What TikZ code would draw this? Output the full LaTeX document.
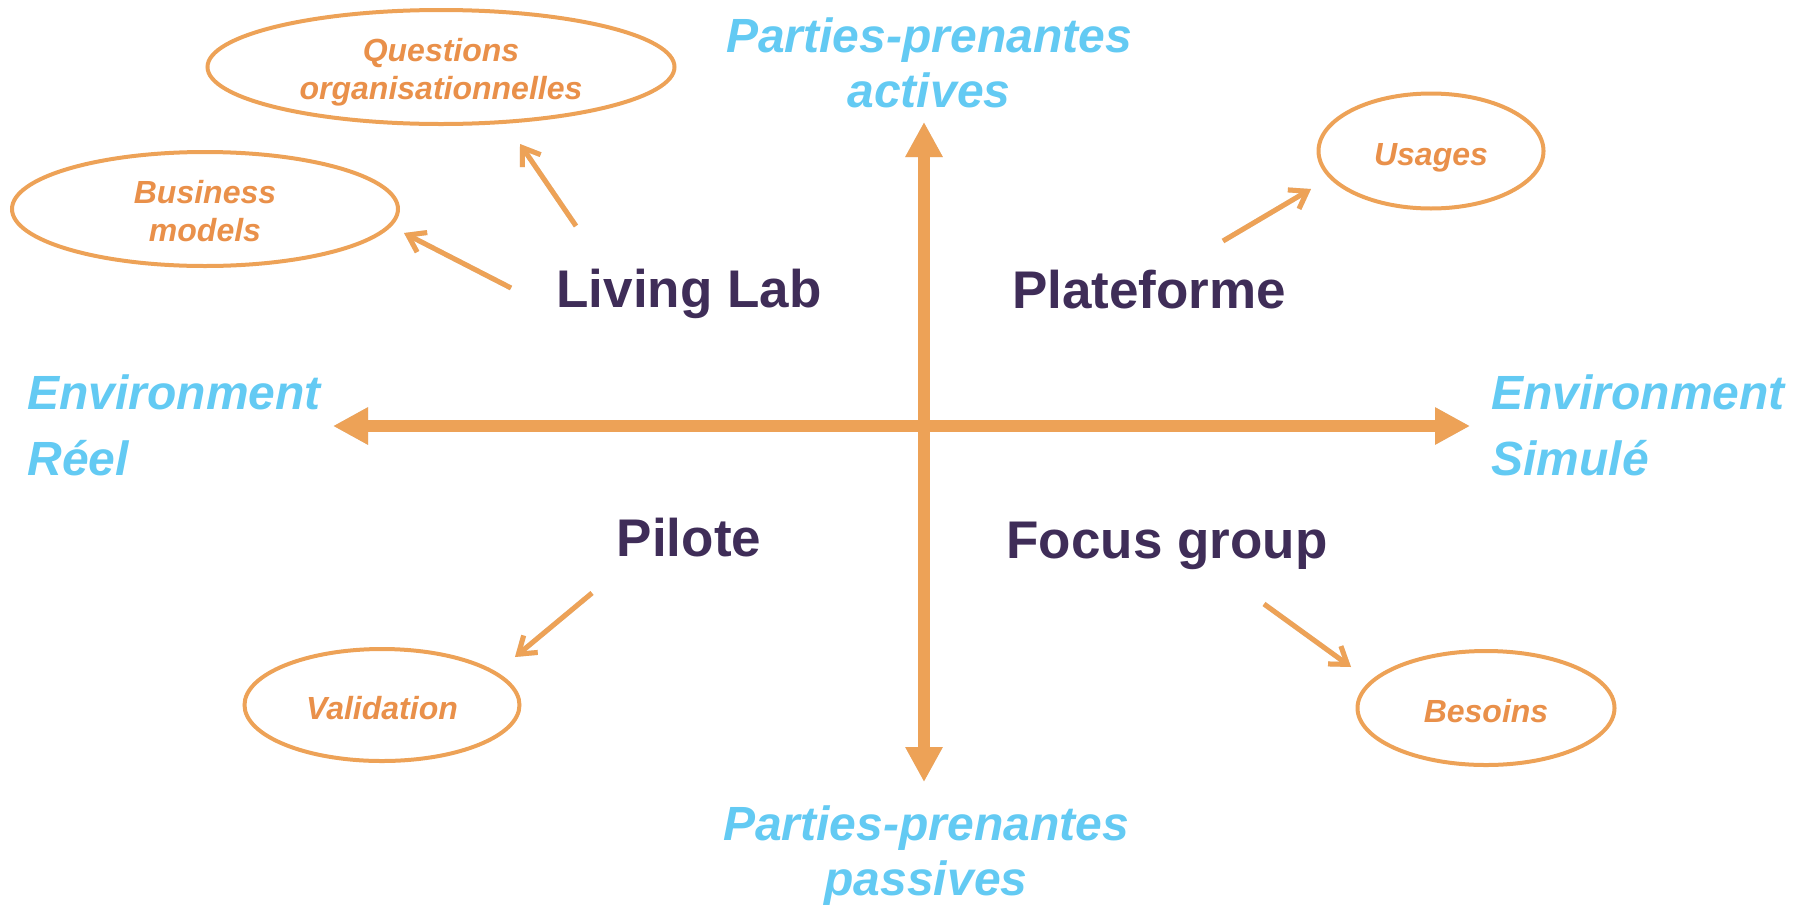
\documentclass[tikz,border=0pt]{standalone}
\usepackage{fontspec}
\setmainfont{Liberation Sans}
\usetikzlibrary{arrows.meta,shapes.geometric}
\definecolor{axisor}{HTML}{EDA257}
\definecolor{ovaltext}{HTML}{E9904A}
\definecolor{axblue}{HTML}{63CAF3}
\definecolor{quadpurple}{HTML}{3F2D58}
\begin{document}
\begin{tikzpicture}[x=0.5pt,y=-0.5pt,
  axisline/.style={draw=axisor,line width=6pt,
    {Triangle[length=17.5pt,width=17.5pt]}-{Triangle[length=17.5pt,width=17.5pt]}},
  axisshadow/.style={draw=black,opacity=0.13,line width=6pt,
    {Triangle[length=17.5pt,width=17.5pt]}-{Triangle[length=17.5pt,width=17.5pt]}},
  smallarrow/.style={draw=axisor,line width=2.5pt,-{Straight Barb[length=8pt,width=11pt]}},
  smallshadow/.style={draw=black,opacity=0.13,line width=2.5pt,-{Straight Barb[length=8pt,width=11pt]}},
  oval/.style={ellipse,draw=axisor,line width=2pt,inner sep=0pt,align=center,
    text height=14pt,text depth=0pt,
    text=ovaltext,font=\fontsize{16}{19}\selectfont\bfseries\itshape},
  ovaltwo/.style={oval,text height=32.6pt,text depth=0pt},
  quad/.style={anchor=base,text=quadpurple,font=\fontsize{26.5}{32}\selectfont\bfseries,inner sep=0pt},
  axlabelv/.style={anchor=base,align=center,text=axblue,inner sep=0pt,
    font=\fontsize{24}{27.5}\selectfont\bfseries\itshape},
  axlabelh/.style={anchor=base west,align=left,text=axblue,inner sep=0pt,
    font=\fontsize{24}{33}\selectfont\bfseries\itshape}]
\useasboundingbox (0,0) rectangle (1808,905);

% axis endpoints
\coordinate (axL) at (333,426);
\coordinate (axR) at (1470,426);
\coordinate (axT) at (924,122);
\coordinate (axB) at (924,782);

% shadows of axes
\begin{scope}[shift={(2,3)}]
  \draw[axisshadow] (axL) -- (axR);
  \draw[axisshadow] (axB) -- (axT);
\end{scope}
\draw[axisline] (axL) -- (axR);
\draw[axisline] (axB) -- (axT);

% axis labels (anchor = baseline of last line)
\node[axlabelv] (top) at (929,107) {Parties-prenantes\\actives};
\node[axlabelv] (bottom) at (926,895) {Parties-prenantes\\passives};
\node[axlabelh] (left) at (27,475) {Environment\\Réel};
\node[axlabelh] (right) at (1491,475) {Environment\\Simulé};

% quadrant labels
\node[quad] (living) at (689,307) {Living Lab};
\node[quad] (plat) at (1149,308) {Plateforme};
\node[quad] (pilote) at (689,556) {Pilote};
\node[quad] (focus) at (1167,558) {Focus group};

% ovals
\node[ovaltwo,minimum width=233.5pt,minimum height=57pt] (quest) at (441,67) {Questions\\organisationnelles};
\node[ovaltwo,minimum width=193pt,minimum height=57pt] (bus) at (205,209) {Business\\models};
\node[oval,minimum width=112.5pt,minimum height=57.5pt] (usa) at (1431,151) {Usages};
\node[oval,minimum width=137.5pt,minimum height=56pt] (vali) at (382,705) {Validation};
\node[oval,minimum width=128.5pt,minimum height=57pt] (beso) at (1486,708) {Besoins};

% small arrow ends
\coordinate (s1) at (511,288); \coordinate (t1) at (404,233);
\coordinate (s2) at (576,226); \coordinate (t2) at (520,144);
\coordinate (s3) at (1223,241); \coordinate (t3) at (1311,189);
\coordinate (s4) at (592,593); \coordinate (t4) at (515,657);
\coordinate (s5) at (1264,604); \coordinate (t5) at (1351,667);

\begin{scope}[shift={(2,3)}]
  \foreach \i in {1,...,5} {\draw[smallshadow] (s\i) -- (t\i);}
\end{scope}
\foreach \i in {1,...,5} {\draw[smallarrow] (s\i) -- (t\i);}
\end{tikzpicture}
\end{document}
